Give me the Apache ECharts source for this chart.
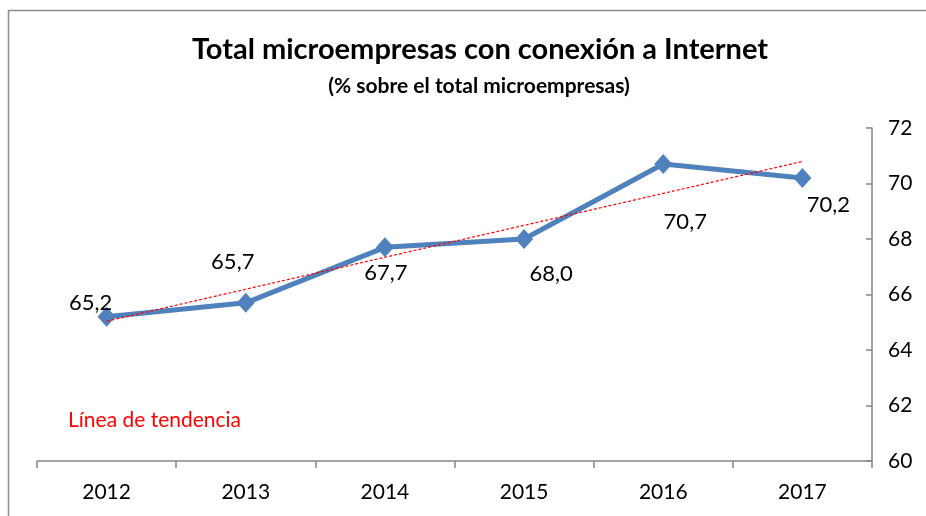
<!DOCTYPE html>
<html>
<head>
<meta charset="utf-8">
<script src="https://cdn.jsdelivr.net/npm/echarts@6/dist/echarts.min.js"></script>
<style>
  html, body { margin: 0; padding: 0; background: #fff; }
  #chart { width: 926px; height: 516px; }
</style>
</head>
<body>
<div id="chart"></div>
<script>
// data
var years = ['2012', '2013', '2014', '2015', '2016', '2017'];
var values = [65.2, 65.7, 67.7, 68.0, 70.7, 70.2];
// where each value label sits relative to its point (px)
var labelOffsets = [[-16, -14], [-13, -41], [1, 26], [27, 35], [22, 58], [26, 27]];
var yTicks = { min: 60, max: 72, interval: 2 };

// least squares trend line over the series
function trend(v) {
    var n = v.length, sx = 0, sy = 0, sxy = 0, sxx = 0;
    for (var i = 0; i < n; i++) {
        sx += i; sy += v[i]; sxy += i * v[i]; sxx += i * i;
    }
    var b = (n * sxy - sx * sy) / (n * sxx - sx * sx);
    var a = (sy - b * sx) / n;
    return v.map(function (d, i) { return +(a + b * i).toFixed(3); });
}

var font = 'Lato, "Open Sans", sans-serif';
var chart = echarts.init(document.getElementById('chart'));

chart.setOption({
    animation: false,
    backgroundColor: '#fff',
    textStyle: { fontFamily: font },
    title: [{
        text: 'Total microempresas con conexión a Internet',
        left: 475, top: 30, textAlign: 'center',
        textStyle: { fontSize: 29, fontWeight: 'bold', color: '#000', fontFamily: font }
    }, {
        text: '(% sobre el total microempresas)',
        left: 474, top: 71, textAlign: 'center',
        textStyle: { fontSize: 21, fontWeight: 'bold', color: '#000', fontFamily: font }
    }],
    grid: { left: 37, right: 54, top: 128, bottom: 55 },
    xAxis: {
        type: 'category',
        data: years,
        boundaryGap: true,
        axisLine: { lineStyle: { color: '#868686', width: 1.5 } },
        axisTick: { show: true, length: 7, lineStyle: { color: '#868686', width: 1.5 } },
        axisLabel: { color: '#000', fontSize: 21, margin: 21, fontFamily: font }
    },
    yAxis: {
        type: 'value',
        position: 'right',
        min: yTicks.min, max: yTicks.max, interval: yTicks.interval,
        splitLine: { show: false },
        axisLine: { show: true, lineStyle: { color: '#868686', width: 1.5 } },
        axisTick: { show: true, inside: true, length: 6, lineStyle: { color: '#868686', width: 1.5 } },
        axisLabel: { color: '#000', fontSize: 21, margin: 16, fontFamily: font }
    },
    graphic: [{
        type: 'rect',
        shape: { x: 8.5, y: 10.5, width: 1000, height: 600 },
        style: { fill: 'none', stroke: '#8c8c8c', lineWidth: 1.5 },
        silent: true
    }, {
        type: 'text',
        left: 68, top: 410,
        style: { text: 'Línea de tendencia', fill: '#ff0000', font: '21px ' + font }
    }],
    series: [{
        name: 'Tendencia',
        type: 'line',
        data: trend(values),
        symbol: 'none',
        z: 3,
        lineStyle: { color: '#ff0000', width: 1.2, type: [3, 2] }
    }, {
        name: 'Microempresas',
        type: 'line',
        data: values.map(function (v, i) {
            return {
                value: v,
                label: { offset: labelOffsets[i] }
            };
        }),
        symbol: 'diamond',
        symbolSize: [18, 20],
        z: 2,
        itemStyle: { color: '#4f81bd' },
        lineStyle: { color: '#4f81bd', width: 5 },
        label: {
            show: true,
            position: 'inside',
            color: '#000',
            fontSize: 22,
            fontFamily: font,
            formatter: function (p) { return p.value.toFixed(1).replace('.', ','); }
        }
    }]
});
</script>
</body>
</html>
